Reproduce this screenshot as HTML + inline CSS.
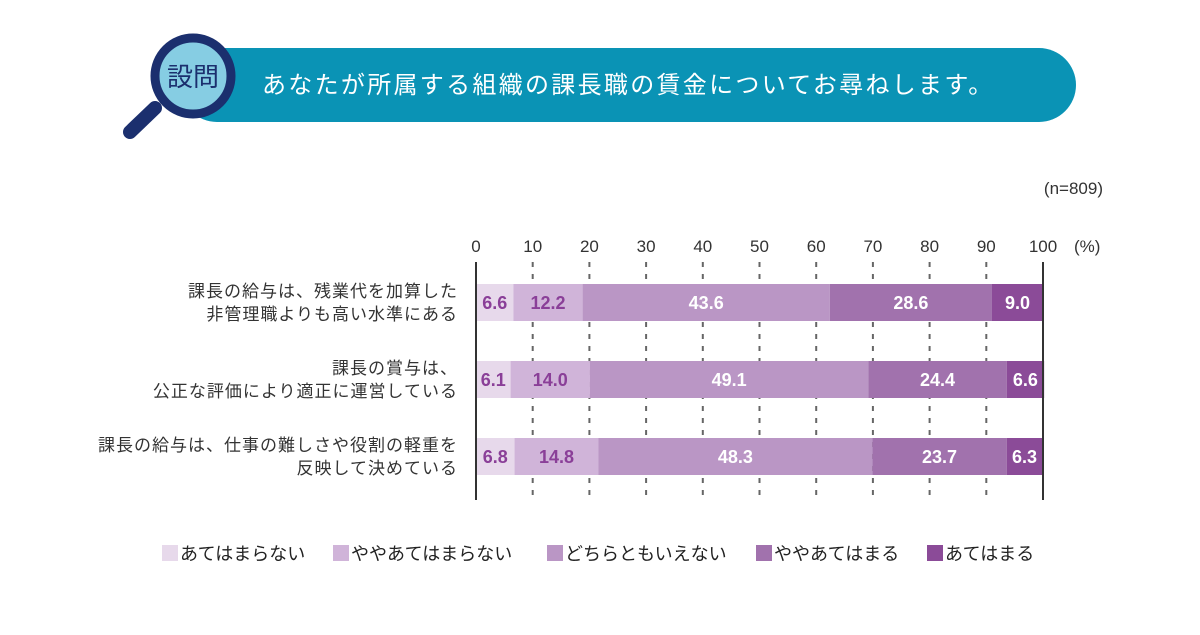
<!DOCTYPE html>
<html><head><meta charset="utf-8"><style>
body{margin:0;width:1200px;height:630px;background:#fff;overflow:hidden;font-family:"Liberation Sans","Noto Sans CJK JP",sans-serif;}
</style></head><body>
<svg width="1200" height="630" xmlns="http://www.w3.org/2000/svg" font-family="'Liberation Sans','Noto Sans CJK JP',sans-serif">
<g>
<rect x="180" y="48" width="896" height="74" rx="37" fill="#0a93b5"/>
<line x1="155" y1="108" x2="130" y2="132" stroke="#1b2f6e" stroke-width="14" stroke-linecap="round"/>
<circle cx="193" cy="76" r="38" fill="#86cde3" stroke="#1b2f6e" stroke-width="9"/>
<text x="193" y="86" font-size="26" fill="#1b2f6e" text-anchor="middle">設問</text>
<text x="262" y="93" font-size="24" fill="#fff" letter-spacing="2.3">あなたが所属する組織の課長職の賃金についてお尋ねします。</text>
</g>
<text x="1103" y="194" font-size="17" fill="#333" text-anchor="end">(n=809)</text>
<g id="plot"></g>
<g id="legend"></g>
</svg>
<script>
const categories=[["課長の給与は、残業代を加算した","非管理職よりも高い水準にある"],["課長の賞与は、","公正な評価により適正に運営している"],["課長の給与は、仕事の難しさや役割の軽重を","反映して決めている"]];
const series1=[6.6,6.1,6.8];
const series2=[12.2,14.0,14.8];
const series3=[43.6,49.1,48.3];
const series4=[28.6,24.4,23.7];
const series5=[9.0,6.6,6.3];
const seriesNames=["あてはまらない","ややあてはまらない","どちらともいえない","ややあてはまる","あてはまる"];
const ticks=[0,10,20,30,40,50,60,70,80,90,100];
const NS="http://www.w3.org/2000/svg";
const colors=["#e7d9eb","#d0b4d9","#ba96c5","#a172ad","#8b4b98"];
const labelColors=["#8a3f98","#8a3f98","#fff","#fff","#fff"];
const x=v=>476+v*5.67;
const rowY=[284,361,438],bh=37;
const plot=document.getElementById('plot');
function mk(tag,attrs,parent){const e=document.createElementNS(NS,tag);for(const k in attrs)e.setAttribute(k,attrs[k]);(parent||plot).appendChild(e);return e;}
const all=[series1,series2,series3,series4,series5];
categories.forEach((c,i)=>{let acc=0;
 all.forEach((s,j)=>{const v=s[i];
  const r=mk('rect',{x:x(acc),y:rowY[i],width:x(acc+v)-x(acc),height:bh,fill:colors[j]});
  
  
  const t=mk('text',{x:(x(acc)+x(acc+v))/2,y:rowY[i]+25,'font-size':18,'font-weight':'bold',fill:labelColors[j],'text-anchor':'middle'});
  t.textContent=v.toFixed(1);
  
  
  acc+=v;});
 c.forEach((ln,k)=>{const t=mk('text',{x:458,y:rowY[i]+13+k*23,'font-size':17,fill:'#333','text-anchor':'end','letter-spacing':1});
  t.textContent=ln;
  
  });
});
ticks.forEach(v=>{
 if(v>0&&v<100){const l=mk('line',{x1:x(v),x2:x(v),y1:262,y2:500,stroke:'#666','stroke-width':2,'stroke-dasharray':'5,7'});
  
  
  plot.insertBefore(l,plot.firstChild);}
 const t=mk('text',{x:x(v),y:252,'font-size':17,fill:'#333','text-anchor':'middle'});
 t.textContent=v;
 
 
});
const pct=mk('text',{x:1074,y:252,'font-size':17,fill:'#333'});pct.textContent='(%)';


[0,100].forEach(v=>{const l=mk('line',{x1:x(v),x2:x(v),y1:262,y2:500,stroke:'#333','stroke-width':2});
 
 });
const lg=document.getElementById('legend');
const lx=[162,333,547,756,927];
seriesNames.forEach((n,j)=>{
 const r=mk('rect',{x:lx[j],y:545,width:16,height:16,fill:colors[j]},lg);
 
 
 const t=mk('text',{x:lx[j]+18,y:560,'font-size':18,fill:'#222'},lg);
 t.textContent=n;
 
 
});
</script>
</body></html>
